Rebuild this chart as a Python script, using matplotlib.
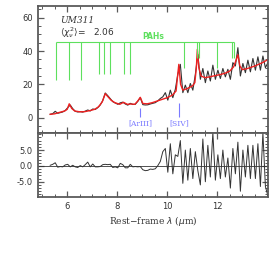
import matplotlib
matplotlib.use('Agg')
import matplotlib.pyplot as plt
from matplotlib.ticker import MultipleLocator, FixedLocator, FormatStrFormatter

# observed spectrum (rest-frame wavelength, flux) and fit residuals
wave = [5.32, 5.42, 5.52, 5.62, 5.72, 5.82, 5.92, 6.02, 6.12, 6.22,
        6.32, 6.42, 6.52, 6.62, 6.72, 6.82, 6.92, 7.02, 7.12, 7.22,
        7.32, 7.42, 7.52, 7.62, 7.72, 7.82, 7.92, 8.02, 8.12, 8.22,
        8.32, 8.42, 8.52, 8.62, 8.72, 8.82, 8.92, 9.02, 9.12, 9.22,
        9.32, 9.42, 9.52, 9.62, 9.72, 9.82, 9.92, 10.02, 10.12, 10.22,
        10.32, 10.42, 10.52, 10.62, 10.72, 10.82, 10.92, 11.02, 11.12, 11.22,
        11.32, 11.42, 11.52, 11.62, 11.72, 11.82, 11.92, 12.02, 12.12, 12.22,
        12.32, 12.42, 12.52, 12.62, 12.72, 12.82, 12.92, 13.02, 13.12, 13.22,
        13.32, 13.42, 13.52, 13.62, 13.72, 13.82, 13.92, 14.02]
flux = [2.0, 2.4, 3.8, 2.6, 3.0, 3.4, 4.3, 6.0, 7.6, 5.4,
        3.8, 3.4, 3.6, 3.3, 3.9, 4.6, 4.0, 5.2, 4.9, 6.0,
        7.6, 10.3, 14.8, 13.2, 11.4, 9.6, 8.8, 8.0, 8.9, 9.3,
        8.2, 7.5, 8.6, 7.9, 8.0, 9.8, 12.0, 7.8, 7.6, 7.7,
        8.2, 8.6, 9.0, 10.1, 11.5, 12.5, 15.0, 10.5, 16.5, 12.0,
        17.0, 26.0, 32.0, 15.0, 19.5, 15.0, 20.5, 16.5, 26.0, 38.0,
        23.0, 29.5, 21.0, 28.0, 22.0, 31.5, 23.0, 28.5, 23.5, 29.5,
        24.5, 29.0, 23.0, 33.0, 31.0, 42.0, 25.0, 32.5, 27.0, 34.5,
        27.5, 35.5, 28.5, 36.5, 28.5, 37.0, 30.0, 33.0]
resid = [0.2, 0.5, 1.0, -0.4, -0.2, -0.3, 0.3, 0.5, -0.3, 0.2,
         -0.3, -0.5, 0.1, -0.3, 0.4, 1.2, -0.3, 0.6, -0.3, -0.3,
         -0.2, 0.4, 0.5, 0.4, 0.5, -0.5, -0.3, -0.6, 0.8, 0.4,
         -0.6, -0.6, 0.5, -0.3, -0.2, -0.3, -0.2, -1.2, -1.5, -1.4,
         -1.0, -1.1, -0.9, 0.1, 1.4, 4.5, 5.5, -2.0, 7.0, -2.5,
         3.5, 3.0, 8.0, -5.5, 5.0, -4.5, 5.5, -4.0, 4.5, -1.5,
         -6.0, 8.5, -5.0, 6.5, -3.5, 10.5, -4.5, 3.5, -4.0, 5.0,
         -3.5, 2.5, -7.0, 5.5, -2.5, 7.5, -8.0, 5.0, -3.5, 6.5,
         -4.0, 6.5, -4.0, 7.0, -6.5, 10.5, -6.5, -9.5]

# best-fit model
model_wave = [5.32, 5.5, 5.7, 5.9, 6.0, 6.08, 6.18, 6.3, 6.5, 6.7,
              6.9, 7.1, 7.25, 7.4, 7.52, 7.6, 7.75, 7.9, 8.1, 8.25,
              8.4, 8.55, 8.7, 8.82, 8.92, 9.02, 9.2, 9.4, 9.6, 9.8,
              10.0, 10.2, 10.35, 10.41, 10.46, 10.53, 10.62, 10.8, 11.0, 11.1,
              11.16, 11.2, 11.26, 11.35, 11.5, 11.7, 11.9, 12.1, 12.3, 12.5,
              12.65, 12.76, 12.82, 12.9, 13.0, 13.2, 13.5, 13.8, 14.04]
model_flux = [2.0, 2.3, 3.2, 4.0, 5.0, 8.3, 5.5, 4.0, 3.5, 3.6,
              4.2, 5.0, 6.5, 9.5, 14.4, 13.0, 10.5, 9.0, 8.0, 9.2,
              8.0, 8.2, 8.0, 10.0, 12.2, 8.5, 8.3, 9.0, 10.0, 11.0,
              12.0, 13.5, 16.0, 25.0, 32.0, 20.0, 16.5, 17.5, 19.0, 21.0,
              30.0, 41.0, 30.0, 25.0, 24.0, 24.5, 25.2, 25.8, 26.6, 28.0,
              30.5, 35.0, 37.8, 31.0, 28.8, 29.5, 31.0, 33.0, 35.0]

# PAH feature markers
pah_wave = [5.55, 6.08, 6.57, 7.28, 7.48, 7.72, 8.25, 8.52, 10.65, 11.2, 11.27, 11.98, 12.6, 12.68]
pah_bottom = [22.5, 22.5, 22.5, 26, 26, 26, 26, 26, 30, 36, 36, 30, 36, 36]
pah_top = 45.2

# atomic lines
line_wave = [8.92, 10.48]
line_names = ['[ArIII]', '[SIV]']
line_y0 = [0.6, 0.6]
line_y1 = [5.7, 9.0]

green = '#5ee05e'
blue = '#7a7aff'
axcol = '#5a5a5a'

fig = plt.figure(figsize=(2.74, 2.74), dpi=100)
ax1 = fig.add_axes([0.1376, 0.5135, 0.842, 0.4645])
ax2 = fig.add_axes([0.1376, 0.280, 0.842, 0.2336], sharex=ax1)

ax1.plot(wave, flux, color='#333333', lw=0.8)
ax1.plot(model_wave, model_flux, color='#ee2020', lw=1.0)

ax1.hlines(pah_top, pah_wave[0], pah_wave[-1], color=green, lw=0.8)
ax1.vlines(pah_wave, pah_bottom, pah_top, color=green, lw=0.8)
ax1.text(9.45, 45.8, 'PAHs', color=green, fontsize=5.5, ha='center', va='bottom', fontweight='bold')

for w, name, y0, y1 in zip(line_wave, line_names, line_y0, line_y1):
    ax1.vlines(w, y0, y1, color=blue, lw=0.8)
    ax1.text(w, -3.2, name, color=blue, fontsize=5.5, ha='center', va='center', family='DejaVu Serif')

ax1.text(5.72, 58.6, 'UM311', fontsize=6.5, style='italic', va='center', color='#333333', family='DejaVu Serif')
ax1.text(5.72, 51.2, r'$\langle\chi^2_\nu\rangle$=   2.06', fontsize=6.5, va='center', color='#333333')

ax2.plot(wave, resid, color='#333333', lw=0.7)
ax2.axhline(0, color='#333333', lw=0.6)

ax1.set_xlim(4.82, 14.04)
ax1.set_ylim(-9.4, 67)
ax2.set_ylim(-9.9, 10.3)

for ax in (ax1, ax2):
    ax.xaxis.set_major_locator(FixedLocator([6, 8, 10, 12]))
    ax.xaxis.set_minor_locator(MultipleLocator(0.5))
    ax.tick_params(which='both', direction='in', top=True, right=True, colors=axcol,
                   labelcolor='#333333', labelsize=6)
    ax.tick_params(which='major', length=4, width=0.9)
    ax.tick_params(which='minor', length=2, width=0.7)
    for s in ax.spines.values():
        s.set_color(axcol)
        s.set_linewidth(1.3)

ax1.yaxis.set_major_locator(MultipleLocator(20))
ax1.yaxis.set_minor_locator(MultipleLocator(5))
ax1.tick_params(labelbottom=False)
ax2.yaxis.set_major_locator(FixedLocator([-5, 0, 5]))
ax2.yaxis.set_minor_locator(MultipleLocator(1))
ax2.yaxis.set_major_formatter(FormatStrFormatter('%.1f'))
ax2.set_xlabel(r'Rest$-$frame $\lambda$ ($\mu$m)', fontsize=6.5, color='#333333', family='DejaVu Serif', labelpad=2)

fig.savefig('out.png', dpi=100)
